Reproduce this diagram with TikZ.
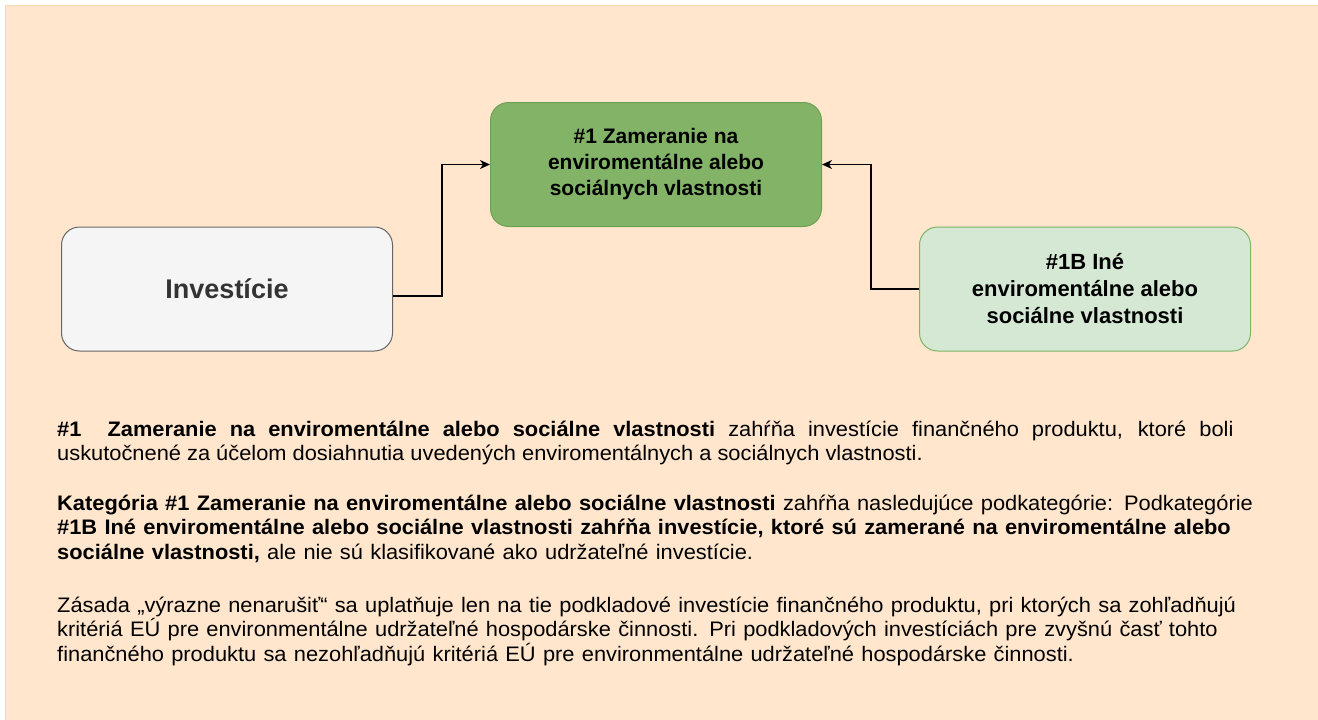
\documentclass[tikz,border=0pt]{standalone}
\usepackage{fontspec}
\setmainfont{Liberation Sans}
\usepackage{xcolor}
\definecolor{pale-orange}{HTML}{FFE6CC}
\definecolor{edge-orange}{HTML}{F7D9AF}
\definecolor{deep-green}{HTML}{82B366}
\definecolor{deep-green-line}{HTML}{6FA155}
\definecolor{pale-green}{HTML}{D5E8D4}
\definecolor{pale-gray}{HTML}{F5F5F5}
\definecolor{gray-line}{HTML}{666666}
\definecolor{gray-text}{HTML}{333333}
\usepackage{tikz}
\usetikzlibrary{positioning}
\usetikzlibrary{arrows.meta}
\tikzset{box/.style = {draw, rounded corners=18pt, align=center, text centered, minimum width=331pt, minimum height=124pt, line width=1pt, font=\fontsize{21}{26}\selectfont\bfseries}}
\tikzset{start/.style = {box, fill=pale-gray, draw=gray-line, text=gray-text, font=\fontsize{27}{30}\selectfont\bfseries}}
\tikzset{goal/.style = {box, fill=deep-green, draw=deep-green-line}}
\tikzset{part/.style = {box, fill=pale-green, draw=deep-green, font=\fontsize{22}{27}\selectfont\bfseries}}
\tikzset{note/.style = {anchor=base west, inner sep=0pt, xscale=1.04, align=left, text width=1230pt, font=\fontsize{21}{24.5}\selectfont}}
\tikzset{arr/.style = {line width=1.3pt, -{Stealth[length=10pt, width=9pt, inset=3pt]}}}

\begin{document}
\begin{tikzpicture}[x=1pt, y=-1pt,
  node distance = 97pt
]
\useasboundingbox (0,0) rectangle (1318,720);
\fill[pale-orange] (5,5) rectangle (1318,720);
\draw[edge-orange, line width=1pt] (5.5,720) -- (5.5,5.5) -- (1318,5.5);

\node[start] (inv) at (227,289) {Investície};
\node[goal, right=of inv, yshift=124.5pt] (focus) {
  \#1 Zameranie na\\
  enviromentálne alebo\\
  sociálnych vlastnosti
};
\node[part, right=of focus, yshift=-124.5pt] (other) {
  \#1B Iné\\
  enviromentálne alebo\\
  sociálne vlastnosti
};

\draw[arr]  ([yshift=-7pt]inv.east) -- ++(49,0) |- (focus);
\draw[arr]  (other.west) -- ++(-48,0) |- (focus);

% text below the boxes
\node[note, align=justify, text width=1131pt] (p1) at (57,436) {
  \textbf{\#1\ \ Zameranie na enviromentálne alebo sociálne vlastnosti} zahŕňa investície finančného produktu, ktoré boli\linebreak
  uskutočnené za účelom dosiahnutia uvedených enviromentálnych a sociálnych vlastnosti.
};
\node[note] (p2) at (57,510) {
  \textbf{Kategória \#1 Zameranie na enviromentálne alebo sociálne vlastnosti} zahŕňa nasledujúce podkategórie: Podkategórie\\
  \textbf{\#1B Iné enviromentálne alebo sociálne vlastnosti zahŕňa investície, ktoré sú zamerané na enviromentálne alebo}\\
  \textbf{sociálne vlastnosti,} ale nie sú klasifikované ako udržateľné investície.
};
\node[note] (p3) at (57,612) {
  Zásada „výrazne nenarušiť“ sa uplatňuje len na tie podkladové investície finančného produktu, pri ktorých sa zohľadňujú\\
  kritériá EÚ pre environmentálne udržateľné hospodárske činnosti. Pri podkladových investíciách pre zvyšnú časť tohto\\
  finančného produktu sa nezohľadňujú kritériá EÚ pre environmentálne udržateľné hospodárske činnosti.
};

\end{tikzpicture}
\end{document}
